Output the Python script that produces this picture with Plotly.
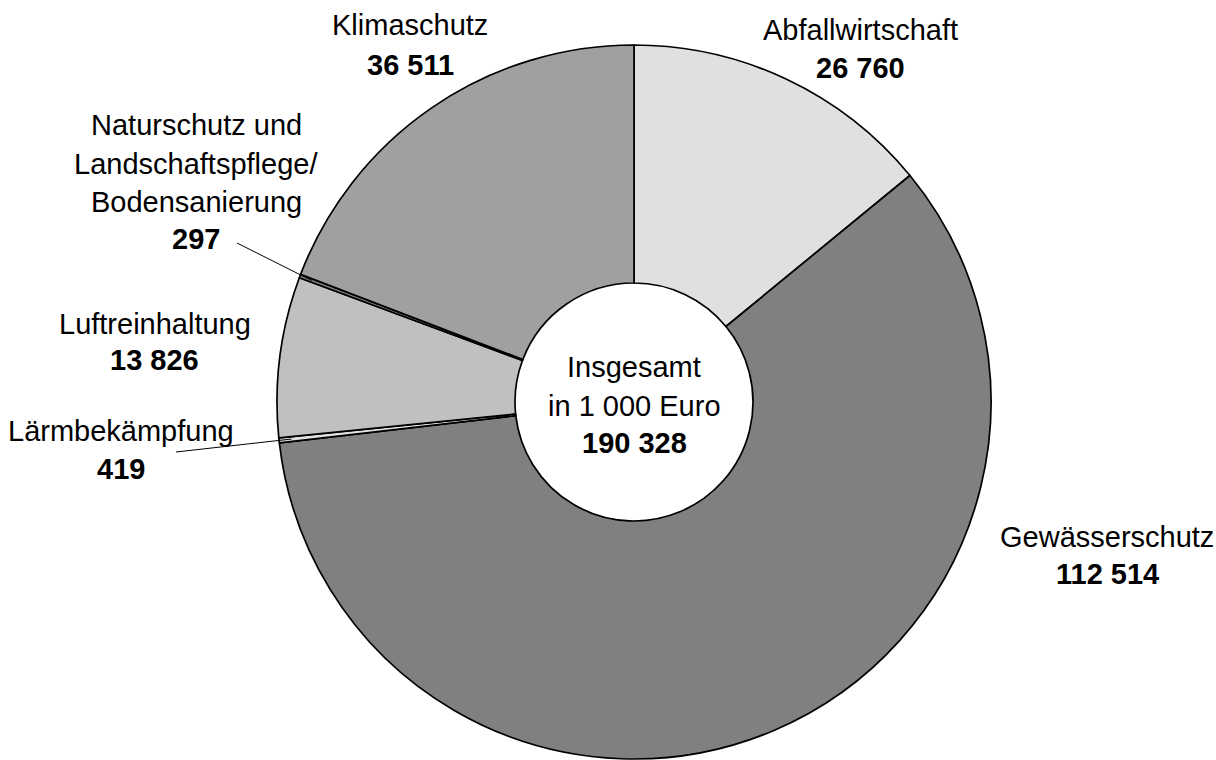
import plotly.graph_objects as go
import math

# ---- data ----
categories = ["Abfallwirtschaft", "Gewässerschutz", "Lärmbekämpfung",
              "Luftreinhaltung", "Naturschutz und Landschaftspflege/Bodensanierung",
              "Klimaschutz"]
values = [26760, 112514, 419, 13826, 297, 36511]
total = 190328
label_lines = [
    ["Abfallwirtschaft"],
    ["Gewässerschutz"],
    ["Lärmbekämpfung"],
    ["Luftreinhaltung"],
    ["Naturschutz und", "Landschaftspflege/", "Bodensanierung"],
    ["Klimaschutz"],
]
colors = ["#e0e0e0", "#808080", "#e0e0e0", "#c0c0c0", "#808080", "#a0a0a0"]

W, H = 1216, 760
FONT = "Liberation Sans, Arial, sans-serif"
FS = 29

def fmt(v):
    return f"{v:,}".replace(",", " ")

def px(x):
    return x / W

def py(y):
    return 1 - y / H

# pie geometry (pixels)
cx, top_y, R = 634, 45, 357
cy = top_y + R

fig = go.Figure(go.Pie(
    labels=categories, values=values, sort=False, direction="clockwise",
    rotation=0, hole=1/3,
    marker=dict(colors=colors, line=dict(color="black", width=1.7)),
    textinfo="none", hoverinfo="label+value", showlegend=False,
    domain=dict(x=[px(cx - R), px(cx + R)], y=[py(cy + R), py(cy - R)]),
))

# label positions (pixel centers: x, y of first line, line step, value y)
label_pos = [
    (860, 30, 0, 68),
    (1107, 537, 0, 574),
    (121, 431, 0, 469),
    (155, 324, 0, 360),
    (196, 125, 38.5, 239),
    (410, 25, 0, 65),
]

annotations = []
for lines, v, (lx, ly, step, vy) in zip(label_lines, values, label_pos):
    for i, t in enumerate(lines):
        annotations.append(dict(x=px(lx), y=py(ly + i * step), xref="paper", yref="paper",
                                text=t, showarrow=False, xanchor="center", yanchor="middle",
                                font=dict(family=FONT, size=FS, color="black")))
    annotations.append(dict(x=px(lx), y=py(vy), xref="paper", yref="paper",
                            text=f"<b>{fmt(v)}</b>", showarrow=False, xanchor="center",
                            yanchor="middle", font=dict(family=FONT, size=FS, color="black")))

center_lines = [("Insgesamt", 367), ("in 1 000 Euro", 406), (f"<b>{fmt(total)}</b>", 443)]
for t, yy in center_lines:
    annotations.append(dict(x=px(cx), y=py(yy), xref="paper", yref="paper", text=t,
                            showarrow=False, xanchor="center", yanchor="middle",
                            font=dict(family=FONT, size=FS, color="black")))

# leader lines to the two thin slices, ending inside the slice
cum = 0
mid_angle = {}
s = sum(values)
for c, v in zip(categories, values):
    mid_angle[c] = (cum + v / 2) / s * 2 * math.pi
    cum += v

def slice_point(cat, frac):
    a = mid_angle[cat]
    return cx + R * frac * math.sin(a), cy - R * frac * math.cos(a)

shapes = []
leaders = [("Naturschutz und Landschaftspflege/Bodensanierung", (237, 243)),
           ("Lärmbekämpfung", (176, 452))]
for cat, (sx, sy) in leaders:
    ex, ey = slice_point(cat, 0.965)
    shapes.append(dict(type="line", xref="paper", yref="paper",
                       x0=px(sx), y0=py(sy), x1=px(ex), y1=py(ey),
                       line=dict(color="black", width=1)))

fig.update_layout(
    width=W, height=H, margin=dict(l=0, r=0, t=0, b=0),
    paper_bgcolor="white", plot_bgcolor="white",
    annotations=annotations, shapes=shapes,
)
fig.write_html("out.html", config={"displayModeBar": False},
               post_script="document.body.style.margin='0';document.body.style.overflow='hidden';")
